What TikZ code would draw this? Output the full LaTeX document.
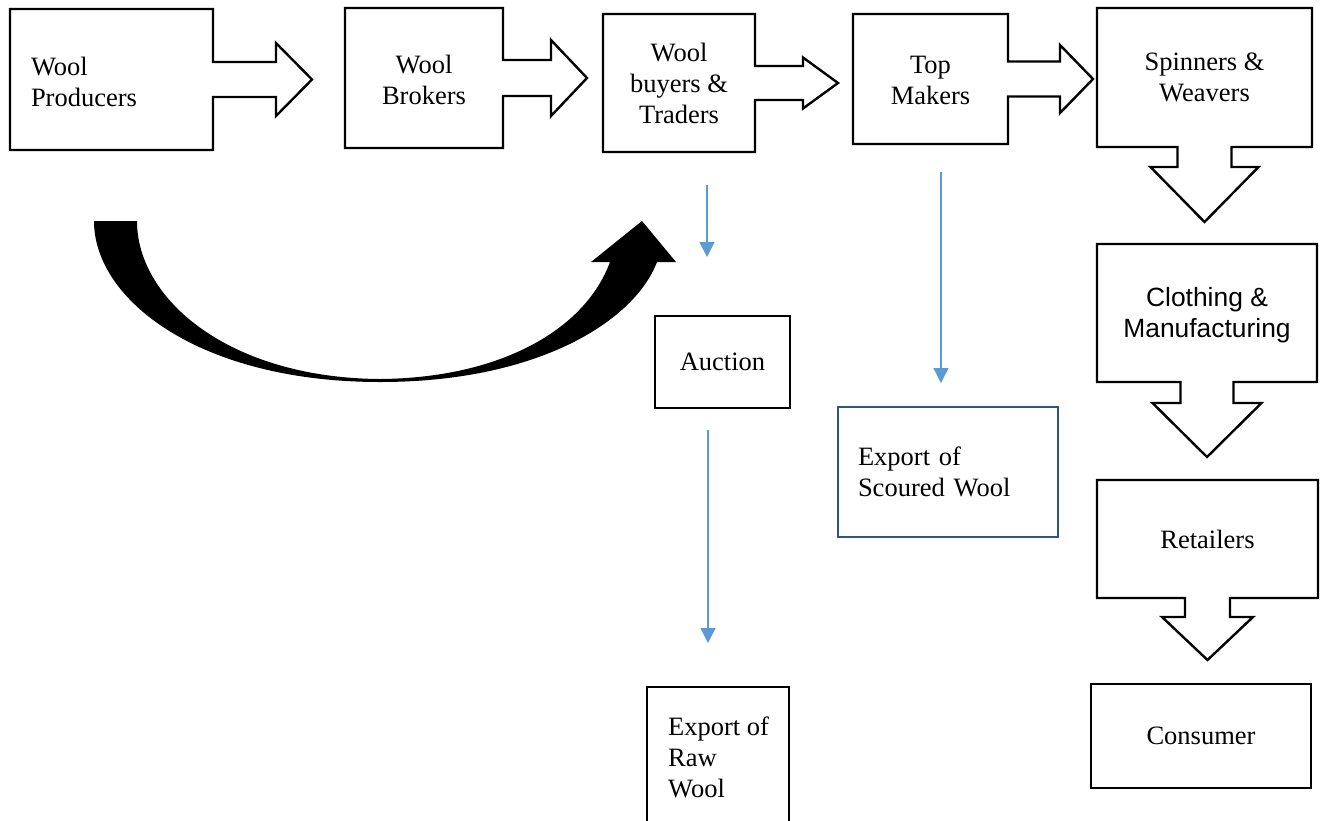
\documentclass[tikz,border=0pt]{standalone}
\usepackage{fontspec}
\setmainfont{Liberation Serif}
\newfontfamily\arialfont{Liberation Sans}
\usetikzlibrary{calc,arrows.meta}
\definecolor{flowblue}{HTML}{5B9BD5}
\definecolor{exportblue}{HTML}{2F5487}

% outline of a box with an arrow on its right side
% #1 node, #2 half shaft, #3 shaft length, #4 half head, #5 tip
\newcommand{\rightcall}[5]{%
  \draw[callline] (#1.north west) -- (#1.north east) -- ($(#1.east)+(0,-#2)$)
    -- ($(#1.east)+(#3,-#2)$) -- ($(#1.east)+(#3,-#4)$) -- ($(#1.east)+(#5,0)$)
    -- ($(#1.east)+(#3,#4)$) -- ($(#1.east)+(#3,#2)$) -- ($(#1.east)+(0,#2)$)
    -- (#1.south east) -- (#1.south west) -- cycle;}
% same, arrow below the box
\newcommand{\downcall}[5]{%
  \draw[callline] (#1.north west) -- (#1.north east) -- (#1.south east)
    -- ($(#1.south)+(#2,0)$) -- ($(#1.south)+(#2,#3)$) -- ($(#1.south)+(#4,#3)$)
    -- ($(#1.south)+(0,#5)$) -- ($(#1.south)+(-#4,#3)$) -- ($(#1.south)+(-#2,#3)$)
    -- ($(#1.south)+(-#2,0)$) -- (#1.south west) -- cycle;}

\begin{document}
\begin{tikzpicture}[x=1pt, y=-1pt,
    font=\fontsize{26.5}{31}\selectfont,
    callbox/.style={draw=none, outer sep=0pt, inner sep=0pt, align=center},
    callline/.style={line width=2.4pt, line join=miter, fill=white},
    plainbox/.style={draw, line width=2.4pt, outer sep=0pt, inner sep=0pt, align=center},
    sanslbl/.style={font=\arialfont\fontsize{26.4}{31}\selectfont},
    flow/.style={draw=flowblue, line width=1.3pt, -{Triangle[width=15pt,length=15pt]}}
  ]
  \clip (0,0) rectangle (1325,820);

  % ------------- top row -------------
  \node[callbox, minimum width=203, minimum height=141] (producers) at (111.5,79.5) {};
  \rightcall{producers}{17.5}{63}{36.5}{99}
  \node[callbox, text width=161, align=left] at ($(producers)+(0,2)$) {Wool\\Producers};

  \node[callbox, minimum width=158, minimum height=140] (brokers) at (424,78) {};
  \rightcall{brokers}{18}{48}{38}{84}
  \node[callbox] at ($(brokers)+(0,2)$) {Wool\\Brokers};

  \node[callbox, minimum width=152, minimum height=138] (buyers) at (679,83) {};
  \rightcall{buyers}{17}{48}{25.5}{83}
  \node[callbox] at (buyers) {Wool\\buyers \&\\Traders};

  \node[callbox, minimum width=155, minimum height=130] (topmakers) at (930.5,79) {};
  \rightcall{topmakers}{17.5}{52}{34}{85}
  \node[callbox] at ($(topmakers)+(0,1)$) {Top\\Makers};

  % ------------- right column -------------
  \node[callbox, minimum width=215, minimum height=139] (spinners) at (1204.5,77.5) {};
  \downcall{spinners}{27}{20}{54}{75}
  \node[callbox] at (spinners) {Spinners \&\\Weavers};

  \node[callbox, minimum width=220, minimum height=138] (clothing) at (1207,313) {};
  \downcall{clothing}{26.5}{21}{54.5}{75}
  \node[callbox, sanslbl] at ($(clothing)+(0,2)$) {Clothing \&\\Manufacturing};

  \node[callbox, minimum width=221, minimum height=118] (retailers) at (1207.5,539) {};
  \downcall{retailers}{22.5}{19}{45.5}{62}
  \node[callbox] at (retailers) {Retailers};

  \node[plainbox, minimum width=220, minimum height=104] (consumer) at (1201,736) {Consumer};

  % ------------- exports -------------
  \node[plainbox, minimum width=135, minimum height=92] (auction) at (722.5,362) {Auction};
  \node[plainbox, draw=exportblue, minimum width=220, minimum height=130, text width=180, align=left]
    (scoured) at (948,472) {Export of\\Scoured Wool};
  \node[plainbox, minimum width=142, minimum height=144] (rawwool) at (718,759) {};
  \node[anchor=north west, align=left, inner sep=0pt] at ($(rawwool.north west)+(21,30)$)
    {Export of\\Raw\\Wool};

  \coordinate (a1) at (707,185);
  \coordinate (a2) at (707,257);
  \coordinate (b1) at (941,172);
  \coordinate (b2) at (941,383);
  \coordinate (c1) at (708,430);
  \coordinate (c2) at (708,643);
  \draw[flow] (a1) -- (a2);
  \draw[flow] (b1) -- (b2);
  \draw[flow] (c1) -- (c2);

  % ------------- curved arrow -------------
  \fill (94,221) .. controls (94,300) and (200,382) .. (380,382)
    .. controls (540,382) and (635,320) .. (657,262)
    -- (676,262) -- (642,221) -- (591,262) -- (610,262)
    .. controls (585,330) and (500,378) .. (380,379)
    .. controls (230,378) and (137,300) .. (137,221) -- cycle;
\end{tikzpicture}
\end{document}
